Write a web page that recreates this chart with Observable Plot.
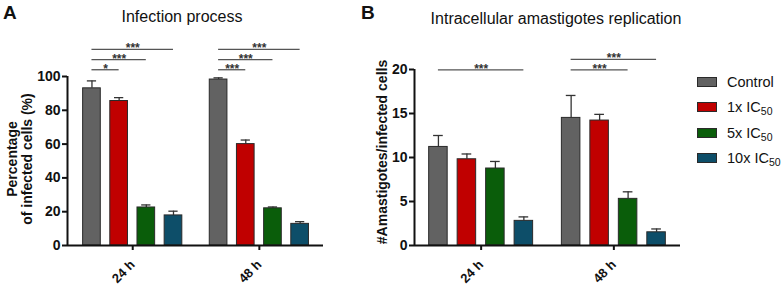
<!DOCTYPE html>
<html><head><meta charset="utf-8">
<script src="https://cdn.jsdelivr.net/npm/d3@7"></script>
<script src="https://cdn.jsdelivr.net/npm/@observablehq/plot@0.6"></script>
<style>
body{margin:0;background:#fff;font-family:"Liberation Sans",Arial,sans-serif;}
#wrap{position:relative;width:782px;height:292px;overflow:hidden;background:#fff;}
.abs{position:absolute;white-space:nowrap;color:#111;}
.plot{position:absolute;top:0;}
.plot svg{overflow:visible;}
svg g[aria-label$="tick label"]{font-weight:bold;}
.ylab{font-weight:bold;font-size:14px;line-height:15px;text-align:center;transform:translate(-50%,-50%) rotate(-90deg);}
.title{font-size:16px;transform:translate(-50%,-50%);}
.panel{font-size:19px;font-weight:bold;}
.leg-sw{position:absolute;width:18px;height:8px;border:1px solid #2a2a2a;}
.leg-tx{position:absolute;font-size:14.5px;transform:translateY(-50%);white-space:nowrap;color:#111;}
.leg-tx sub{font-size:10.5px;vertical-align:-3px;line-height:0;}
</style></head><body><div id="wrap"></div>
<script>
// ---- data ----
const groups = ["24 h", "48 h"];
const series = ["Control", "1x IC50", "5x IC50", "10x IC50"];
const seriesColors = ["#626262", "#c00000", "#0a5d0a", "#0d4e69"];

const infectionMean = [[93, 85.5, 22.5, 17.8], [98.2, 60, 22, 12.8]];
const infectionErr  = [[4.4, 2, 1.5, 2.5], [1, 2.4, 0.8, 1.3]];
const infectionTicks = [0, 20, 40, 60, 80, 100];
const infectionSig = [
  {group: "24 h", to: "1x IC50", label: "*"},
  {group: "24 h", to: "5x IC50", label: "***"},
  {group: "24 h", to: "10x IC50", label: "***"},
  {group: "48 h", to: "1x IC50", label: "***"},
  {group: "48 h", to: "5x IC50", label: "***"},
  {group: "48 h", to: "10x IC50", label: "***"}
];

const amastigoteMean = [[11.2, 9.8, 8.75, 2.8], [14.5, 14.2, 5.3, 1.5]];
const amastigoteErr  = [[1.3, 0.6, 0.8, 0.45], [2.55, 0.7, 0.8, 0.38]];
const amastigoteTicks = [0, 5, 10, 15, 20];
const amastigoteSig = [
  {group: "24 h", to: "10x IC50", label: "***"},
  {group: "48 h", to: "5x IC50", label: "***"},
  {group: "48 h", to: "10x IC50", label: "***"}
];

// ---- layout helpers ----
const GAP = 4.66, HALF = 0.325, CAP = 0.17;
const pos = (gi, si) => gi * GAP + si;
const font = '"Liberation Sans", Arial, sans-serif';

function buildRows(mean, err) {
  const rows = [];
  groups.forEach((g, gi) => series.forEach((s, si) =>
    rows.push({group: g, series: s, gi, si, value: mean[gi][si], err: err[gi][si]})));
  return rows;
}

function panel({mean, err, sig, yDomain, yTicks, width, marginLeft, marginRight, marginTop, xDomain, base, step}) {
  const rows = buildRows(mean, err);
  const counter = {};
  const sigRows = sig.map(d => {
    const gi = groups.indexOf(d.group);
    const k = counter[d.group] = (counter[d.group] ?? -1) + 1;
    return {label: d.label, x1: pos(gi, 0), x2: pos(gi, series.indexOf(d.to)), level: base + k * step};
  });
  return Plot.plot({
    width, height: 292, marginLeft, marginRight, marginTop, marginBottom: 47,
    x: {type: "linear", domain: xDomain, axis: null},
    y: {domain: yDomain, axis: null},
    color: {domain: series, range: seriesColors},
    style: {fontFamily: font, background: "transparent", color: "#111"},
    marks: [
      Plot.ruleX(rows, {x: d => pos(d.gi, d.si), y1: "value", y2: d => d.value + d.err, stroke: "#333", strokeWidth: 1.3}),
      Plot.ruleY(rows, {y: d => d.value + d.err, x1: d => pos(d.gi, d.si) - CAP, x2: d => pos(d.gi, d.si) + CAP, stroke: "#333", strokeWidth: 1.3}),
      Plot.rectY(rows, {x1: d => pos(d.gi, d.si) - HALF, x2: d => pos(d.gi, d.si) + HALF, y1: 0, y2: "value", fill: "series", stroke: "#2a2a2a", strokeWidth: 1}),
      Plot.axisY({ticks: yTicks, tickSize: 5, tickPadding: 2, fontSize: 14, fontWeight: "bold", strokeWidth: 2, label: null}),
      Plot.axisX({ticks: groups.map((g, gi) => gi * GAP + 1.5), tickFormat: v => groups[Math.round((v - 1.5) / GAP)],
        tickRotate: -45, tickSize: 5, tickPadding: 12, fontSize: 13, fontWeight: "bold", strokeWidth: 2, label: null}),
      Plot.ruleY([0], {stroke: "#111", strokeWidth: 2}),
      Plot.ruleX([xDomain[0]], {y1: yDomain[0], y2: yDomain[1], stroke: "#111", strokeWidth: 2}),
      Plot.ruleY(sigRows, {y: "level", x1: "x1", x2: "x2", stroke: "#555", strokeWidth: 1.3}),
      Plot.text(sigRows, {x: d => (d.x1 + d.x2) / 2, y: "level", text: "label", lineAnchor: "bottom", dy: 3, fontSize: 12, fontWeight: "bold", fill: "#333"})
    ]
  });
}

const wrap = document.getElementById("wrap");
function place(el, left) { const d = document.createElement("div"); d.className = "plot"; d.style.left = left + "px"; d.appendChild(el); wrap.appendChild(d); }
function addText(cls, html, left, top) { const d = document.createElement("div"); d.className = "abs " + cls; d.innerHTML = html; d.style.left = left + "px"; d.style.top = top + "px"; wrap.appendChild(d); }

place(panel({mean: infectionMean, err: infectionErr, sig: infectionSig, yDomain: [0, 100], yTicks: infectionTicks,
  width: 360, marginLeft: 67, marginRight: 37, marginTop: 76, xDomain: [-0.9, 8.52], base: 104, step: 6}), 0);
place(panel({mean: amastigoteMean, err: amastigoteErr, sig: amastigoteSig, yDomain: [0, 20], yTicks: amastigoteTicks,
  width: 330, marginLeft: 54, marginRight: 10, marginTop: 69, xDomain: [-0.84, 8.5], base: 19.95, step: 1.2}), 360);

addText("panel", "A", 3, 2);
addText("panel", "B", 361, 2);
addText("title", "Infection process", 182, 17);
addText("title", "Intracellular amastigotes replication", 556, 19);
addText("ylab", "Percentage<br>of infected cells (%)", 20, 159);
addText("ylab", "#Amastigotes/infected cells", 382, 152);

series.forEach((s, i) => {
  const cy = 82 + i * 25.3;
  const sw = document.createElement("div"); sw.className = "leg-sw";
  sw.style.left = "697px"; sw.style.top = (cy - 5) + "px"; sw.style.background = seriesColors[i];
  wrap.appendChild(sw);
  const tx = document.createElement("div"); tx.className = "leg-tx";
  tx.style.left = "727px"; tx.style.top = cy + "px";
  tx.innerHTML = s.replace("IC50", "IC<sub>50</sub>");
  wrap.appendChild(tx);
});
</script></body></html>
